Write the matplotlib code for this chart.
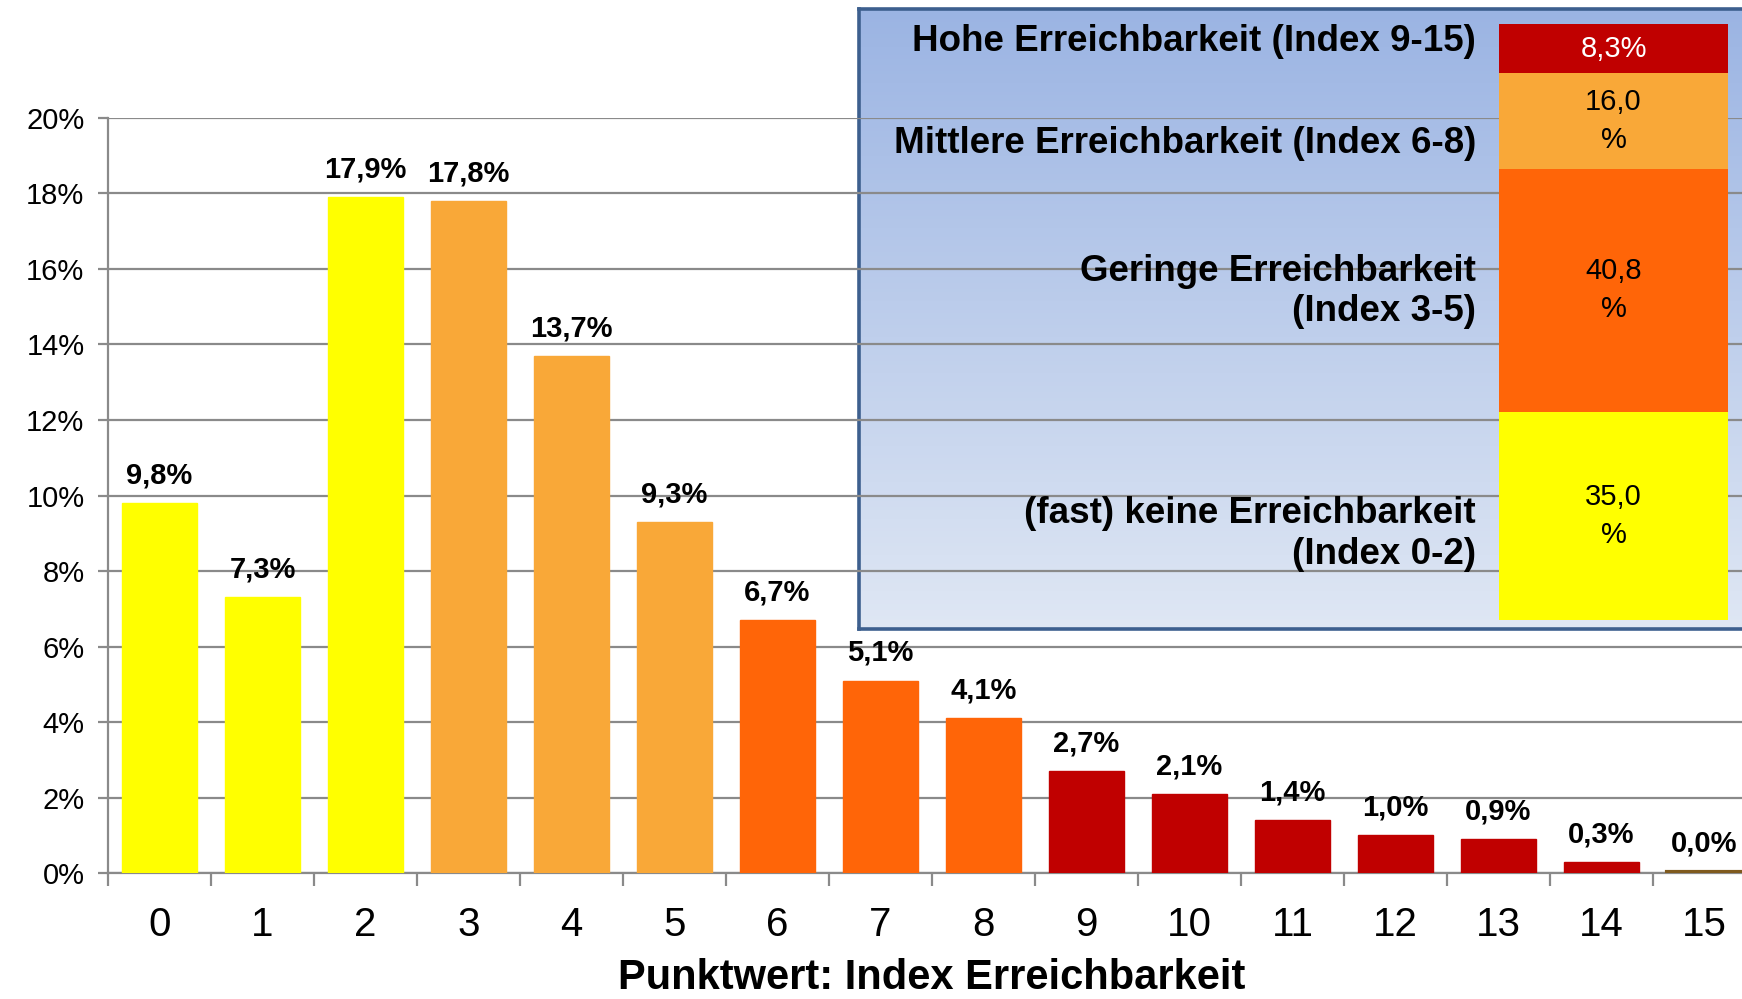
import numpy as np
import matplotlib
matplotlib.use("Agg")
import matplotlib.pyplot as plt
from matplotlib.ticker import FixedLocator, PercentFormatter

# index values 0..15 and share of cases (%)
categories = [str(i) for i in range(16)]
shares = [9.8, 7.3, 17.9, 17.8, 13.7, 9.3, 6.7, 5.1, 4.1, 2.7, 2.1, 1.4, 1.0, 0.9, 0.3, 0.04]
bar_colors = ["#FFFF00"] * 3 + ["#F9A838"] * 3 + ["#FF6508"] * 3 + ["#C00000"] * 6 + ["#7F5A1E"]

# summary box: groups from bottom to top
group_names = ["(fast) keine Erreichbarkeit\n(Index 0-2)",
               "Geringe Erreichbarkeit\n(Index 3-5)",
               "Mittlere Erreichbarkeit (Index 6-8)",
               "Hohe Erreichbarkeit (Index 9-15)"]
group_shares = [35.0, 40.8, 16.0, 8.3]
group_labels = ["35,0\n%", "40,8\n%", "16,0\n%", "8,3%"]
group_colors = ["#FFFF00", "#FF6508", "#F9A838", "#C00000"]
group_text_colors = ["black", "black", "black", "white"]

plt.rcParams["font.family"] = ["Liberation Sans", "DejaVu Sans"]

fig = plt.figure(figsize=(17.42, 9.99), dpi=100)
fig.patch.set_facecolor("white")

# blue gradient box behind the right part of the chart
box = fig.add_axes([0.4931, 0.3704, 0.5115, 0.6206], zorder=0)
grad = np.linspace(0, 1, 256).reshape(-1, 1)
top_c = np.array([0x9B, 0xB4, 0xE3]) / 255
bot_c = np.array([0xDF, 0xE7, 0xF4]) / 255
img = top_c[None, None, :] * (1 - grad[:, :, None]) + bot_c[None, None, :] * grad[:, :, None]
box.imshow(img, extent=[0, 1, 0, 1], aspect="auto", origin="upper")
box.set_xticks([])
box.set_yticks([])
for s in box.spines.values():
    s.set_color("#3D5F8E")
    s.set_linewidth(2.6)

# main bar chart
ax = fig.add_axes([0.062, 0.126, 0.946, 0.756], zorder=1)
ax.patch.set_visible(False)
x = np.arange(len(shares))
edge_w = [1.0] * 15 + [3.0]
bars = ax.bar(x, shares, width=0.72, color=bar_colors, edgecolor=bar_colors,
              linewidth=edge_w, zorder=3)
ax.set_xlim(-0.5, 15.5)
ax.set_ylim(0, 20)
ax.yaxis.set_major_locator(FixedLocator(np.arange(0, 21, 2)))
ax.yaxis.set_major_formatter(PercentFormatter(decimals=0))
ax.grid(axis="y", color="#8A8A8A", linewidth=1.6, zorder=1)
ax.set_axisbelow(True)
for side in ["top", "right"]:
    ax.spines[side].set_visible(False)
for side in ["left", "bottom"]:
    ax.spines[side].set_color("#8A8A8A")
    ax.spines[side].set_linewidth(1.6)
    ax.spines[side].set_zorder(2)

ax.set_xticks(x)
ax.set_xticklabels(categories)
ax.xaxis.set_minor_locator(FixedLocator(np.arange(-0.5, 16, 1)))
ax.tick_params(axis="x", which="major", length=0, pad=24, labelsize=29)
ax.tick_params(axis="x", which="minor", length=9, width=1.6, color="#8A8A8A")
ax.tick_params(axis="y", length=7, width=1.6, color="#8A8A8A", pad=10, labelsize=21)

for xi, v in zip(x, shares):
    ax.annotate(f"{v:.1f}".replace(".", ",") + "%", (xi, v), xytext=(0, 20),
                textcoords="offset points", ha="center", va="center",
                fontsize=21, fontweight="bold", clip_on=False)

ax.set_xlabel("Punktwert: Index Erreichbarkeit", fontsize=30,
              fontweight="bold", labelpad=10)

# stacked summary bar inside the box
ax2 = fig.add_axes([0.8605, 0.3794, 0.1315, 0.5966], zorder=2)
ax2.patch.set_visible(False)
bottoms = np.concatenate([[0], np.cumsum(group_shares)[:-1]])
ax2.bar(0, group_shares, bottom=bottoms, width=1.0, color=group_colors)
ax2.set_xlim(-0.5, 0.5)
ax2.set_ylim(0, sum(group_shares))
ax2.axis("off")
for b, h, lab, tc in zip(bottoms, group_shares, group_labels, group_text_colors):
    ax2.text(0, b + h / 2, lab, ha="center", va="center", color=tc,
             fontsize=21, linespacing=1.45)

name_y = [0.4655, 0.708, 0.856, 0.958]
for name, yy in zip(group_names, name_y):
    fig.text(0.8473, yy, name, ha="right", va="center", fontsize=26.5,
             fontweight="bold", linespacing=1.2, zorder=3)

fig.savefig("out.png", dpi=100)
